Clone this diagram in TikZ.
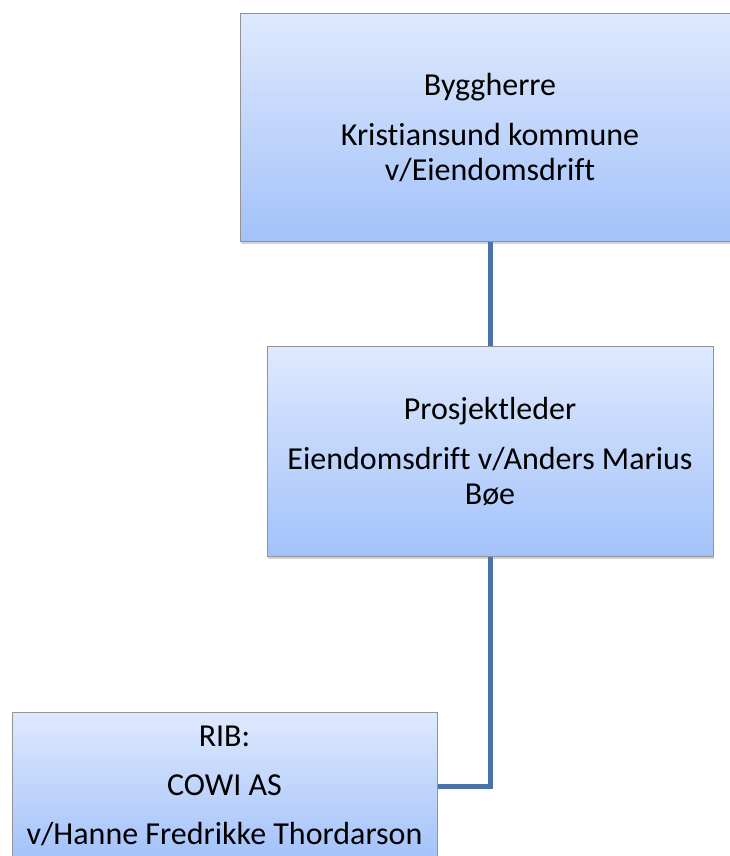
\documentclass[tikz,border=0pt]{standalone}
\usepackage{fontspec}
\setmainfont{Carlito}[Ligatures=NoCommon]
\usetikzlibrary{shadows}
\definecolor{boxtop}{HTML}{DEE9FD}
\definecolor{boxbot}{HTML}{A3C2FA}
\definecolor{linkblue}{HTML}{4A73A9}
\begin{document}
\begin{tikzpicture}[x=1pt,y=1pt,
  orgbox/.style={draw=gray!85,line width=1pt,top color=boxtop,bottom color=boxbot,
    drop shadow={shadow xshift=1pt,shadow yshift=-3pt,opacity=0.35},
    align=center,inner sep=0pt,font=\fontsize{32}{35}\selectfont},
  link/.style={linkblue,line width=5pt}]
\useasboundingbox (0,0) rectangle (729,-856);
% boxes
\node[orgbox,minimum width=500pt,minimum height=227pt] (byg) at (490,-127.5)
  {Byggherre\\[15pt]Kristiansund kommune\\v/Eiendomsdrift};
\node[orgbox,minimum width=446pt,minimum height=210pt] (pl) at (490,-451)
  {Prosjektleder\\[15pt]Eiendomsdrift v/Anders Marius\\Bøe};
\node[orgbox,minimum width=425pt,minimum height=148pt] (rib) at (224.5,-786)
  {RIB:\\[14pt]COWI AS\\[14pt]v/Hanne Fredrikke Thordarson};
% links
\draw[link] (byg.south) -- (pl.north);
\draw[link] (pl.south) |- (rib.east);
\end{tikzpicture}
\end{document}
